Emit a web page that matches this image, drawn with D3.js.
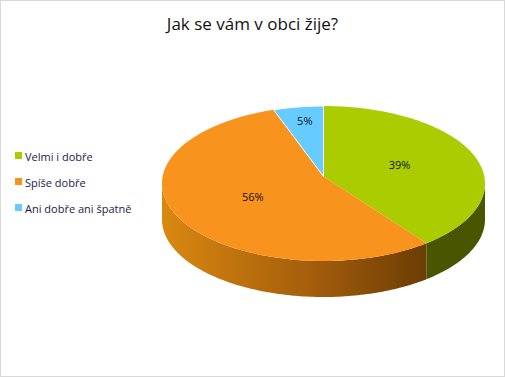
<!DOCTYPE html>
<html>
<head>
    <script src="https://d3js.org/d3.v7.min.js"></script>
    <style>
        body { margin: 0; }
        text { font-family: "Open Sans", "Noto Sans", sans-serif; }
    </style>
</head>
<body>
    <svg id="chart" width="505" height="377"></svg>
    <script>
        // data
        const categories = ["Velmi i dobře", "Spíše dobře", "Ani dobře ani špatně"];
        const values = [39, 56, 5];
        const topColors = ["#aacc00", "#f8931d", "#66ccff"];
        const sideColors = ["#4a5500", "url(#orangeSide)", "#2f7fa8"];
        const labels = ["39%", "56%", "5%"];

        const svg = d3.select("svg#chart");
        const width = +svg.attr("width");
        const height = +svg.attr("height");

        // background + border
        svg.append("rect")
            .attr("x", 0.5).attr("y", 0.5)
            .attr("width", width - 1).attr("height", height - 1)
            .attr("fill", "white")
            .attr("stroke", "#d9d9d9");

        const defs = svg.append("defs");
        const grad = defs.append("linearGradient")
            .attr("id", "orangeSide")
            .attr("gradientUnits", "userSpaceOnUse")
            .attr("x1", 162).attr("x2", 436).attr("y1", 0).attr("y2", 0);
        grad.append("stop").attr("offset", "0%").attr("stop-color", "#da8811");
        grad.append("stop").attr("offset", "55%").attr("stop-color", "#a35d0b");
        grad.append("stop").attr("offset", "100%").attr("stop-color", "#663a04");

        // title
        svg.append("text")
            .attr("x", width / 2)
            .attr("y", 30)
            .attr("text-anchor", "middle")
            .style("font-size", "17px")
            .attr("fill", "#111")
            .text("Jak se vám v obci žije?");

        // pie geometry (vertex raised a bit to fake perspective)
        const cx = 323.5, cy = 183.5, rx = 161.5, ry = 77.5, depth = 36;
        const vy = cy - 7;
        const px = a => cx + rx * Math.sin(a);
        const py = a => cy - ry * Math.cos(a);

        const pie = d3.pie().sort(null).value(d => d);
        const arcs = pie(values);

        function arcPts(a0, a1, dy) {
            const n = Math.max(2, Math.ceil(Math.abs(a1 - a0) / 0.02));
            const pts = [];
            for (let i = 0; i <= n; i++) {
                const a = a0 + (a1 - a0) * i / n;
                pts.push([px(a), py(a) + dy]);
            }
            return pts;
        }

        function topPath(d) {
            const pts = arcPts(d.startAngle, d.endAngle, 0);
            return "M" + cx + "," + vy + "L" + pts.map(p => p.join(",")).join("L") + "Z";
        }

        function sidePath(d) {
            const a0 = Math.max(d.startAngle, Math.PI / 2);
            const a1 = Math.min(d.endAngle, 3 * Math.PI / 2);
            if (a1 <= a0) return null;
            const upper = arcPts(a0, a1, 0);
            const lower = arcPts(a1, a0, depth);
            return "M" + upper.map(p => p.join(",")).join("L") + "L" + lower.map(p => p.join(",")).join("L") + "Z";
        }

        const pieG = svg.append("g");

        pieG.selectAll("path.side")
            .data(arcs.filter(d => sidePath(d)))
            .join("path")
            .attr("class", "side")
            .attr("d", sidePath)
            .attr("fill", d => sideColors[d.index]);

        pieG.selectAll("path.top")
            .data(arcs)
            .join("path")
            .attr("class", "top")
            .attr("d", topPath)
            .attr("fill", d => topColors[d.index])
            .attr("stroke", d => d.index === 2 ? "white" : "none")
            .attr("stroke-width", 1);

        // data labels
        const lblR = d => d.index === 2 ? 0.74 : 0.5;
        pieG.selectAll("text.lbl")
            .data(arcs)
            .join("text")
            .attr("class", "lbl")
            .attr("x", d => cx + rx * lblR(d) * Math.sin((d.startAngle + d.endAngle) / 2))
            .attr("y", d => cy - ry * lblR(d) * Math.cos((d.startAngle + d.endAngle) / 2) - 6)
            .attr("text-anchor", "middle")
            .attr("dominant-baseline", "central")
            .style("font-size", "11px")
            .attr("fill", "#111")
            .text(d => labels[d.index]);

        // legend
        const legend = svg.append("g").attr("transform", "translate(15,150)");
        const items = legend.selectAll("g")
            .data(categories)
            .join("g")
            .attr("transform", (d, i) => `translate(0,${i * 26})`);
        items.append("rect")
            .attr("x", 0).attr("y", 2)
            .attr("width", 7).attr("height", 7)
            .attr("fill", (d, i) => topColors[i]);
        items.append("text")
            .attr("x", 10)
            .attr("y", 6)
            .attr("dominant-baseline", "central")
            .style("font-size", "11px")
            .attr("fill", "#1a1a4a")
            .text(d => d);
    </script>
</body>
</html>
